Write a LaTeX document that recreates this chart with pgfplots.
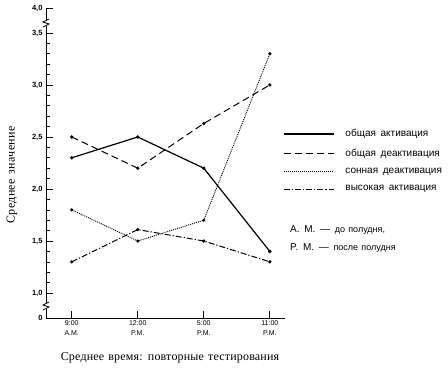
\documentclass[border=0pt]{standalone}
\usepackage{pgfplots}
\pgfplotsset{compat=1.18}
\usepackage{fontspec}
\setmainfont{Liberation Serif}
\newfontfamily\lsans{Liberation Sans}
\newfontfamily\lsanswide{Liberation Sans}[WordSpace=1.3]
\newfontfamily\lserifwide{Liberation Serif}[LetterSpace=3, WordSpace=1.4]
\newfontfamily\lserifmid{Liberation Serif}[LetterSpace=1.5, WordSpace=1.3]
\begin{document}
\begin{tikzpicture}[x=1pt,y=1pt]
\path[use as bounding box] (-46,-52) rectangle (402,318);
\begin{axis}[
  at={(0,0)}, anchor=south west,
  scale only axis, width=239pt, height=310pt,
  xmin=-0.39, xmax=3.23, ymin=0.76, ymax=3.74,
  axis lines=left, axis line style={-, line width=0.9pt},
  tick align=inside,
  major tick length=7pt, minor tick length=4pt,
  every tick/.style={black, line width=0.8pt},
  minor tick style={line width=0.6pt},
  xtick={0,1,2,3},
  xticklabels={{9:00\\A.M.},{12:00\\P.M.},{5:00\\P.M.},{11:00\\P.M.}},
  xticklabel style={align=center, font=\lsans\fontsize{7}{10.5}\selectfont, yshift=1pt},
  x tick style={line width=1.3pt},
  ytick={0.76,1,1.5,2,2.5,3,3.5,3.74},
  yticklabels={0,{1,0},{1,5},{2,0},{2,5},{3,0},{3,5},{4,0}},
  minor ytick={1.1,1.2,1.3,1.4,1.6,1.7,1.8,1.9,2.1,2.2,2.3,2.4,2.6,2.7,2.8,2.9,3.1,3.2,3.3,3.4},
  yticklabel style={font=\lsans\bfseries\fontsize{7.5}{8}\selectfont},
  clip=false,
  legend style={at={(rel axis cs:0.992,0.615)}, anchor=north west, draw=none, fill=none,
    font=\lsanswide\fontsize{10}{11}\selectfont, row sep=6.5pt, column sep=9pt, inner sep=0pt},
  legend cell align=left,
  legend image code/.code={\draw[#1, mark=none] (0pt,0pt) -- (50pt,0pt);},
  every axis plot/.append style={mark=*, mark size=1.1pt, mark options={solid}},
]
\addplot[black, line width=1.2pt] coordinates {(0,2.3) (1,2.5) (2,2.2) (3,1.4)};
\addplot[black, line width=1pt, dash pattern=on 7pt off 4pt] coordinates {(0,2.5) (1,2.2) (2,2.63) (3,3.0)};
\addplot[black, line width=0.9pt, dash pattern=on 1pt off 1pt] coordinates {(0,1.8) (1,1.5) (2,1.7) (3,3.3)};
\addplot[black, line width=1pt, dash pattern=on 6pt off 2pt on 1.2pt off 2pt] coordinates {(0,1.3) (1,1.61) (2,1.5) (3,1.3)};
\legend{общая активация, общая деактивация, сонная деактивация, высокая активация}
\end{axis}
% axis breaks
\fill[white] (-3,9) rectangle (3,15);
\draw[line width=0.8pt] (-3,8) -- (3,11) -- (-3,13) -- (3,16);
\fill[white] (-3,292) rectangle (3,298);
\draw[line width=0.8pt] (-3,291) -- (3,294) -- (-3,296) -- (3,299);
% labels
\node[rotate=90, font=\lserifwide\fontsize{12}{13}\selectfont] at (-34,143) {Среднее значение};
\node[font=\lserifmid\fontsize{12}{13}\selectfont] at (124,-40) {Среднее время: повторные тестирования};
\node[anchor=west, font=\lsans\fontsize{10}{11}\selectfont, inner sep=0pt] at (244,88) {A. M. — \fontsize{9}{10}\selectfont до полудня,};
\node[anchor=west, font=\lsans\fontsize{10}{11}\selectfont, inner sep=0pt] at (244,70) {P. M. — \fontsize{9}{10}\selectfont после полудня};
\end{tikzpicture}
\end{document}
